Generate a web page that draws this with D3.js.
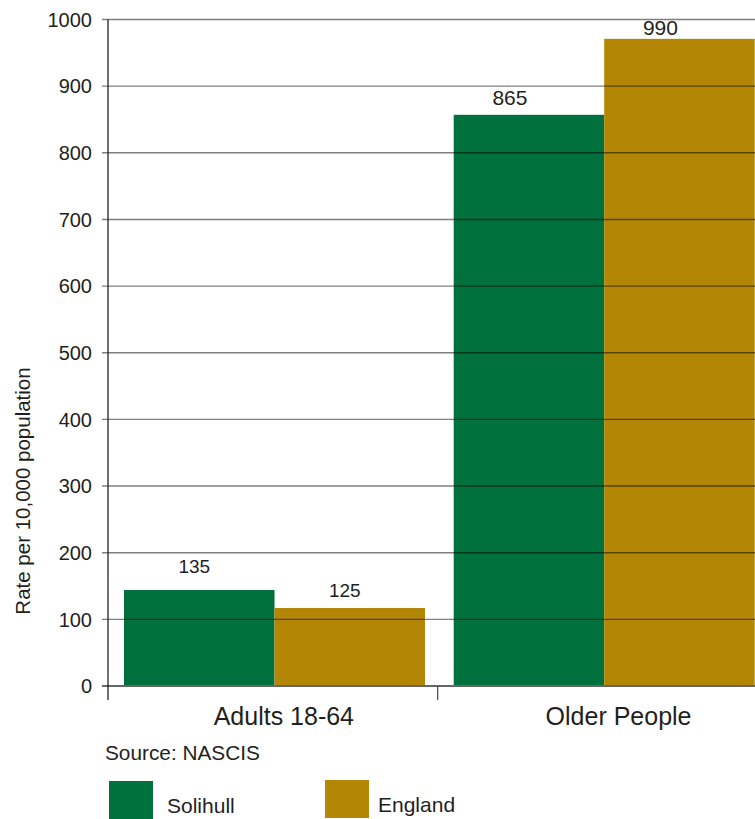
<!DOCTYPE html>
<html>
<head>
<meta charset="utf-8">
<script src="https://cdn.jsdelivr.net/npm/d3@7/dist/d3.min.js"></script>
<style>
  html, body { margin: 0; padding: 0; background: #fff; }
  svg text { font-family: "Liberation Sans", Arial, Helvetica, sans-serif; fill: #231f20; }
</style>
</head>
<body>
<svg id="chart" width="755" height="819"></svg>
<script>
// ---- data ----
const categories = ["Adults 18-64", "Older People"];
const seriesNames = ["Solihull", "England"];
const solihullValues = [144, 857];
const englandValues = [117, 971];
const solihullLabels = ["135", "865"];
const englandLabels = ["125", "990"];
const yTicks = [0, 100, 200, 300, 400, 500, 600, 700, 800, 900, 1000];
const yTitle = "Rate per 10,000 population";
const sourceText = "Source: NASCIS";
const colors = ["#00703c", "#b38705"];

// ---- layout ----
const svg = d3.select("#chart");
const axisX = 108;
const y = d3.scaleLinear().domain([0, 1000]).range([686, 19.5]);
const x0 = d3.scaleBand().domain(categories).range([axisX, axisX + 2 * 329.7]).padding(0);
const x1 = d3.scaleBand().domain(seriesNames).range([16, 317]).padding(0);
const color = d3.scaleOrdinal().domain(seriesNames).range(colors);

const rows = categories.map((c, i) => ({
  category: c,
  values: [
    { series: "Solihull", value: solihullValues[i], label: solihullLabels[i] },
    { series: "England", value: englandValues[i], label: englandLabels[i] }
  ]
}));

// bars
const groups = svg.selectAll("g.grp").data(rows).enter().append("g")
  .attr("class", "grp")
  .attr("transform", d => `translate(${x0(d.category)},0)`);

groups.selectAll("rect").data(d => d.values).enter().append("rect")
  .attr("x", d => x1(d.series))
  .attr("width", x1.bandwidth())
  .attr("y", d => y(d.value))
  .attr("height", d => y(0) - y(d.value))
  .attr("fill", d => color(d.series));

// gridlines (drawn over bars, semi-transparent)
svg.append("g").selectAll("line").data(yTicks.filter(t => t > 0)).enter().append("line")
  .attr("x1", 102).attr("x2", 755)
  .attr("y1", d => y(d)).attr("y2", d => y(d))
  .attr("stroke", "#000").attr("stroke-opacity", 0.5).attr("stroke-width", 1.4);

// x axis baseline
svg.append("line")
  .attr("x1", 102).attr("x2", 755).attr("y1", y(0)).attr("y2", y(0))
  .attr("stroke", "#666").attr("stroke-width", 1.8);

// y axis line
svg.append("line")
  .attr("x1", axisX).attr("x2", axisX).attr("y1", y(1000)).attr("y2", 700)
  .attr("stroke", "#222").attr("stroke-width", 1.3);

// category separator tick
svg.append("line")
  .attr("x1", x0(categories[1])).attr("x2", x0(categories[1]))
  .attr("y1", y(0)).attr("y2", 700)
  .attr("stroke", "#444").attr("stroke-width", 1.2);

// y tick labels
svg.append("g").selectAll("text").data(yTicks).enter().append("text")
  .attr("x", 92)
  .attr("y", d => y(d))
  .attr("dy", "0.36em")
  .attr("text-anchor", "end")
  .attr("font-size", 20)
  .text(d => d);

// value labels
const labelDx = [-5, -19];
const labelSize = [19, 21];
const labelDy = [[17, 11], [10, 4]];
groups.each(function (d, i) {
  d3.select(this).selectAll("text.val").data(d.values).enter().append("text")
    .attr("class", "val")
    .attr("x", v => x1(v.series) + x1.bandwidth() / 2 + labelDx[i])
    .attr("y", (v, j) => y(v.value) - labelDy[i][j])
    .attr("text-anchor", "middle")
    .attr("font-size", labelSize[i])
    .text(v => v.label);
});

// category labels
const catDx = [11, 16];
svg.append("g").selectAll("text").data(categories).enter().append("text")
  .attr("x", (d, i) => x0(d) + x0.bandwidth() / 2 + catDx[i])
  .attr("y", 725)
  .attr("text-anchor", "middle")
  .attr("font-size", 25)
  .text(d => d);

// y axis title
svg.append("text")
  .attr("transform", "translate(30,491) rotate(-90)")
  .attr("text-anchor", "middle")
  .attr("font-size", 20.5)
  .text(yTitle);

// source
svg.append("text")
  .attr("x", 105).attr("y", 760)
  .attr("font-size", 20.8)
  .text(sourceText);

// legend
const legendX = [109, 325];
const legend = svg.append("g").selectAll("g").data(seriesNames).enter().append("g")
  .attr("transform", (d, i) => `translate(${legendX[i]},${i === 0 ? 781 : 780})`);
legend.append("rect")
  .attr("width", 44).attr("height", 38)
  .attr("fill", d => color(d));
legend.append("text")
  .attr("x", (d, i) => i === 0 ? 58 : 53)
  .attr("y", 31.5)
  .attr("font-size", 21)
  .text(d => d);
</script>
</body>
</html>
